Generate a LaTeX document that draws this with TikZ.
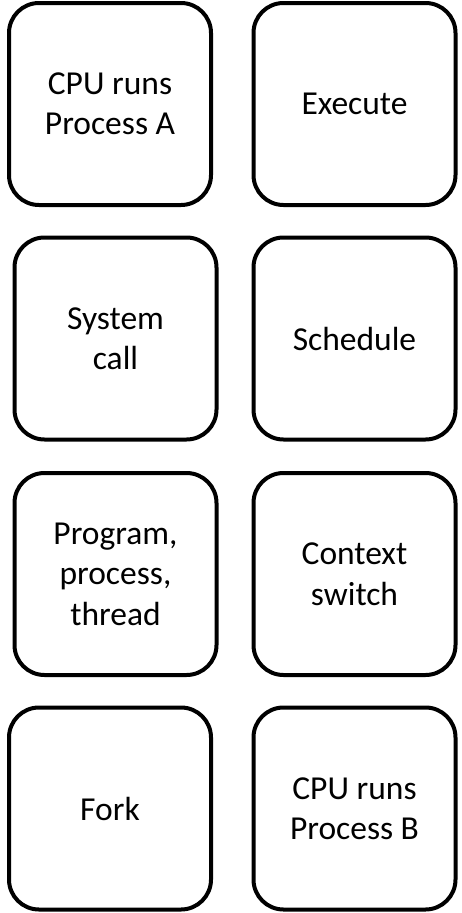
\documentclass[tikz,border=0pt]{standalone}
\usepackage{fontspec}
\setmainfont{Carlito}
\usepackage{tikz}
\usetikzlibrary{positioning}
\tikzset{%
	card/.style = {draw, rectangle, rounded corners=30pt, line width=4pt, minimum width=202pt, minimum height=202pt, align=center, font=\fontsize{33.5}{40.5}\selectfont},
}
\begin{document}
\begin{tikzpicture}[x=1pt,y=-1pt]
			\useasboundingbox (0,0) rectangle (461,913);
			\node[card] (runa) at (110,104) {CPU runs\\Process A};
			\node[card] (exec) at (354.5,104) {Execute};
			\node[card] (syscall) at (115.5,338.5) {System\\call};
			\node[card] (sched) at (354.5,338.5) {Schedule};
			\node[card] (prog) at (115.5,574) {Program,\\process,\\thread};
			\node[card] (ctx) at (354.5,574) {Context\\switch};
			\node[card] (fork) at (110,808.5) {Fork};
			\node[card] (runb) at (354.5,808.5) {CPU runs\\Process B};
			\end{tikzpicture}
\end{document}
